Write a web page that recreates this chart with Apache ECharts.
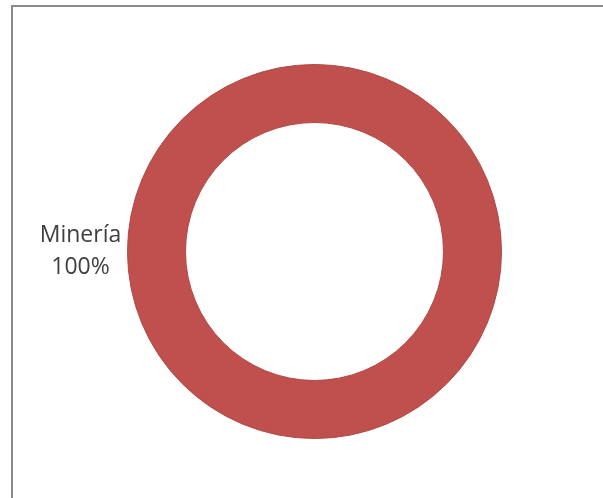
<!DOCTYPE html>
<html>
<head>
<meta charset="utf-8">
<style>
  html, body { margin: 0; padding: 0; background: #ffffff; }
  #chart { width: 603px; height: 498px; }
</style>
<script src="https://cdn.jsdelivr.net/npm/echarts@6/dist/echarts.min.js"></script>
</head>
<body>
<div id="chart"></div>
<script>
// Sector shares (percent)
const categories = ['Minería'];
const values = [100];
const colors = ['#C0504D'];

const chart = echarts.init(document.getElementById('chart'), null, { renderer: 'canvas' });

const total = values.reduce((a, b) => a + b, 0);
const pieData = categories.map((name, i) => ({
  name: name,
  value: values[i],
  itemStyle: { color: colors[i] }
}));

chart.setOption({
  animation: false,
  backgroundColor: '#ffffff',
  graphic: [{
    type: 'rect',
    shape: { x: 12, y: 6, width: 700, height: 600 },
    style: { fill: 'none', stroke: '#8a8a8a', lineWidth: 2 },
    silent: true,
    z: -1
  }],
  series: [{
    type: 'pie',
    center: [314.5, 251.5],
    radius: [129, 187],
    startAngle: 0,
    clockwise: true,
    itemStyle: { borderColor: '#b14a47', borderWidth: 1 },
    label: {
      show: true,
      position: 'outside',
      distanceToLabelLine: 4,
      formatter: p => '{a|' + p.name + '}\n{a|' + Math.round(p.value / total * 100) + '%}',
      rich: {
        a: {
          fontFamily: 'Open Sans',
          fontSize: 23,
          color: '#404040',
          width: 86,
          align: 'center',
          lineHeight: 32
        }
      }
    },
    labelLine: { show: false, length: 0, length2: 0 },
    emphasis: { disabled: true },
    data: pieData
  }]
});
</script>
</body>
</html>
